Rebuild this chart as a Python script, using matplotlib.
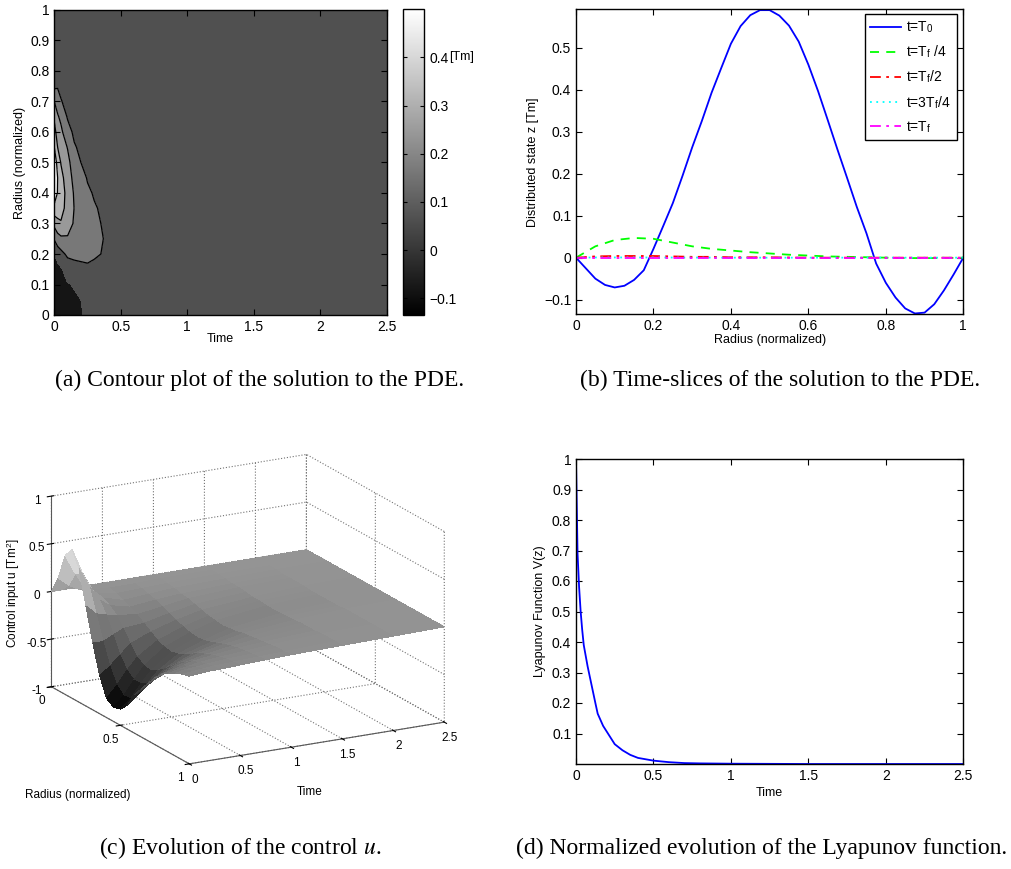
import numpy as np
import matplotlib
matplotlib.use('Agg')
import matplotlib.pyplot as plt
from matplotlib import cm, colors
from matplotlib.ticker import FuncFormatter

plt.rcParams['font.family'] = ['Liberation Sans', 'DejaVu Sans']
plt.rcParams['mathtext.fontset'] = 'stix'
plt.rcParams['xtick.direction'] = 'in'
plt.rcParams['ytick.direction'] = 'in'

# ---- (a) contour data: z(t, r), rows = time, columns = radius
t_a = [0, 0.025, 0.05, 0.1, 0.15, 0.2, 0.25, 0.3, 0.35, 0.4, 0.5, 2.5]
r_a = [0, 0.05, 0.1, 0.15, 0.2, 0.25, 0.3, 0.35, 0.4, 0.45, 0.5,
       0.55, 0.6, 0.65, 0.7, 0.75, 0.8, 0.85, 0.9, 0.95, 1.0]
z_a = [
    [-0.10, -0.12, -0.13, -0.11, -0.052, 0.06, 0.18, 0.32, 0.42, 0.47, 0.43, 0.35, 0.29, 0.23, 0.15, 0.03, 0.01, 0.0, 0.0, 0.0, 0.0],
    [-0.09, -0.11, -0.11, -0.08, -0.01, 0.11, 0.22, 0.31, 0.345, 0.35, 0.31, 0.25, 0.20, 0.16, 0.11, 0.04, 0.015, 0.005, 0.0, 0.0, 0.0],
    [-0.08, -0.09, -0.09, -0.06, 0.02, 0.13, 0.24, 0.29, 0.30, 0.28, 0.245, 0.21, 0.17, 0.13, 0.055, 0.03, 0.01, 0.0, 0.0, 0.0, 0.0],
    [-0.07, -0.075, -0.055, -0.01, 0.07, 0.14, 0.19, 0.21, 0.215, 0.20, 0.18, 0.145, 0.09, 0.04, 0.025, 0.015, 0.01, 0.0, 0.0, 0.0, 0.0],
    [-0.06, -0.06, -0.045, 0.02, 0.07, 0.11, 0.14, 0.148, 0.14, 0.12, 0.095, 0.06, 0.03, 0.02, 0.015, 0.01, 0.0, 0.0, 0.0, 0.0, 0.0],
    [-0.055, -0.05, -0.02, 0.03, 0.07, 0.09, 0.10, 0.10, 0.09, 0.075, 0.05, 0.03, 0.02, 0.01, 0.01, 0.0, 0.0, 0.0, 0.0, 0.0, 0.0],
    [-0.04, -0.03, -0.005, 0.04, 0.065, 0.075, 0.075, 0.07, 0.06, 0.045, 0.03, 0.02, 0.01, 0.01, 0.0, 0.0, 0.0, 0.0, 0.0, 0.0, 0.0],
    [-0.03, -0.02, 0.0, 0.035, 0.058, 0.065, 0.063, 0.055, 0.045, 0.035, 0.025, 0.015, 0.01, 0.0, 0.0, 0.0, 0.0, 0.0, 0.0, 0.0, 0.0],
    [-0.02, -0.015, 0.0, 0.03, 0.05, 0.056, 0.05, 0.045, 0.035, 0.03, 0.02, 0.01, 0.005, 0.0, 0.0, 0.0, 0.0, 0.0, 0.0, 0.0, 0.0],
    [-0.015, -0.01, 0.0, 0.02, 0.035, 0.04, 0.038, 0.033, 0.028, 0.02, 0.015, 0.01, 0.0, 0.0, 0.0, 0.0, 0.0, 0.0, 0.0, 0.0, 0.0],
    [-0.01, -0.005, 0.0, 0.01, 0.02, 0.025, 0.02, 0.015, 0.01, 0.005, 0.0, 0.0, 0.0, 0.0, 0.0, 0.0, 0.0, 0.0, 0.0, 0.0, 0.0],
    [0.0, 0.0, 0.0, 0.0, 0.0, 0.0, 0.0, 0.0, 0.0, 0.0, 0.0, 0.0, 0.0, 0.0, 0.0, 0.0, 0.0, 0.0, 0.0, 0.0, 0.0],
]
levels_a = [-1.0, -0.05, 0.05, 0.15, 0.25, 0.35, 1.0]
fills_a = ['#151515', '#505050', '#787878', '#999999', '#b4b4b4', '#efefef']

# ---- (b) time slices z(r)
r_b0 = np.linspace(0, 1, 41)
z_T0 = [0, -0.025, -0.05, -0.065, -0.071, -0.067, -0.053, -0.03, 0.021, 0.075,
        0.13, 0.195, 0.263, 0.326, 0.393, 0.452, 0.51, 0.552, 0.578, 0.59,
        0.59, 0.577, 0.553, 0.515, 0.46, 0.397, 0.328, 0.258, 0.19, 0.121,
        0.058, -0.014, -0.06, -0.095, -0.121, -0.133, -0.131, -0.111, -0.078, -0.04, 0]
r_b = np.linspace(0, 1, 21)
z_T1 = [0, 0.027, 0.042, 0.047, 0.045, 0.036, 0.027, 0.021, 0.017, 0.013, 0.01,
        0.007, 0.005, 0.003, 0.002, 0.001, 0.0, -0.001, -0.001, -0.001, 0]
z_T2 = [0, 0.003, 0.004, 0.004, 0.004, 0.003, 0.002, 0.002, 0.001, 0.001, 0.001,
        0.0005, 0.0, 0.0, 0.0, 0.0, 0.0, 0.0, 0.0, 0.0, 0]
z_T3 = [0, 0.0005, 0.0005, 0.0005, 0.0004, 0.0003, 0.0002, 0.0001, 0.0, 0.0, 0.0,
        0.0, 0.0, 0.0, 0.0, 0.0, 0.0, 0.0, 0.0, 0.0, 0]
z_T4 = [0, 0.0, 0.0, 0.0, 0.0, 0.0, 0.0, 0.0, 0.0, 0.0, 0.0,
        0.0, 0.0, 0.0, 0.0, 0.0, 0.0, 0.0, 0.0, 0.0, 0]
labels_b = ['t=T$_\\mathregular{0}$', 't=T$_\\mathregular{f}$ /4', 't=T$_\\mathregular{f}$/2',
            't=3T$_\\mathregular{f}$/4', 't=T$_\\mathregular{f}$']

# ---- (c) control input u(r, t), rows = time
r_c = np.linspace(0, 1, 21)
t_c = [0, 0.1, 0.2, 0.3, 0.5, 0.75, 1.0, 1.5, 2.0, 2.5]
u_c = [
    [0, 0.18, 0.46, 0.56, 0.40, 0.05, -0.30, -0.60, -0.80, -0.85, -0.83, -0.75, -0.60, -0.50, -0.40, -0.30, -0.22, -0.17, -0.13, -0.10, -0.08],
    [0, 0.09, 0.25, 0.30, 0.20, -0.05, -0.30, -0.52, -0.68, -0.75, -0.74, -0.66, -0.55, -0.44, -0.35, -0.27, -0.20, -0.15, -0.11, -0.09, -0.07],
    [0, 0.03, 0.08, 0.10, 0.04, -0.08, -0.25, -0.42, -0.54, -0.60, -0.60, -0.55, -0.46, -0.37, -0.29, -0.22, -0.17, -0.13, -0.10, -0.08, -0.06],
    [0, 0.0, 0.01, 0.0, -0.04, -0.10, -0.20, -0.32, -0.42, -0.47, -0.48, -0.44, -0.38, -0.31, -0.24, -0.19, -0.14, -0.11, -0.09, -0.07, -0.06],
    [0, -0.01, -0.03, -0.06, -0.09, -0.13, -0.18, -0.23, -0.28, -0.31, -0.32, -0.30, -0.26, -0.22, -0.17, -0.14, -0.11, -0.09, -0.07, -0.06, -0.05],
    [0, -0.01, -0.02, -0.04, -0.06, -0.09, -0.12, -0.15, -0.18, -0.20, -0.21, -0.20, -0.18, -0.15, -0.12, -0.10, -0.08, -0.07, -0.06, -0.05, -0.04],
    [0, 0.0, -0.01, -0.02, -0.04, -0.05, -0.07, -0.09, -0.11, -0.12, -0.13, -0.12, -0.11, -0.09, -0.08, -0.07, -0.06, -0.05, -0.04, -0.04, -0.03],
    [0, 0.0, 0.0, -0.01, -0.02, -0.02, -0.03, -0.04, -0.04, -0.05, -0.05, -0.05, -0.04, -0.04, -0.03, -0.03, -0.03, -0.02, -0.02, -0.02, -0.02],
    [0, 0.0, 0.0, 0.0, -0.01, -0.01, -0.01, -0.01, -0.02, -0.02, -0.02, -0.02, -0.02, -0.01, -0.01, -0.01, -0.01, -0.01, -0.01, -0.01, -0.01],
    [0, 0.0, 0.0, 0.0, 0.0, 0.0, 0.0, 0.0, 0.0, 0.0, 0.0, 0.0, 0.0, 0.0, 0.0, 0.0, 0.0, 0.0, 0.0, 0.0, 0.0],
]

# ---- (d) normalized Lyapunov function
t_d = [0, 0.01, 0.02, 0.03, 0.04, 0.05, 0.075, 0.1, 0.125, 0.14, 0.175, 0.2, 0.25,
       0.3, 0.35, 0.4, 0.5, 0.6, 0.7, 0.8, 1.0, 1.5, 2.0, 2.5]
V_d = [1.0, 0.69, 0.58, 0.50, 0.44, 0.39, 0.32, 0.26, 0.20, 0.165, 0.125, 0.105, 0.065,
       0.045, 0.03, 0.02, 0.011, 0.006, 0.003, 0.002, 0.001, 0.0, 0.0, 0.0]

captions = ['(a) Contour plot of the solution to the PDE.',
            '(b) Time-slices of the solution to the PDE.',
            '(c) Evolution of the control $u$.',
            '(d) Normalized evolution of the Lyapunov function.']

W, H = 1011, 869
fig = plt.figure(figsize=(W / 100, H / 100), dpi=100)


def rect(x0, y0, x1, y1):
    # pixel box -> figure fraction
    return [x0 / W, 1 - y1 / H, (x1 - x0) / W, (y1 - y0) / H]


fmt = FuncFormatter(lambda v, p: ('%g' % round(v, 6)).replace('-', '\u2212'))


def matlab_axes(ax):
    ax.tick_params(labelsize=10, top=True, right=True, length=4, width=0.8)
    for s in ax.spines.values():
        s.set_linewidth(1.0)
    ax.xaxis.set_major_formatter(fmt)
    ax.yaxis.set_major_formatter(fmt)


# (a)
ax_a = fig.add_axes(rect(54.3, 10, 386.7, 315))
Za = np.array(z_a).T
ax_a.contourf(t_a, r_a, Za, levels=levels_a, colors=fills_a)
ax_a.contour(t_a, r_a, Za, levels=levels_a[2:-1], colors='k', linewidths=0.9)
ax_a.set_xlim(0, 2.5)
ax_a.set_ylim(0, 1)
ax_a.set_xticks(np.arange(0, 2.51, 0.5))
ax_a.set_yticks(np.arange(0, 1.01, 0.1))
matlab_axes(ax_a)
ax_a.set_xlabel('Time', fontsize=9)
ax_a.set_ylabel('Radius (normalized)', fontsize=9)
ax_a.yaxis.set_label_coords(-0.085, 0.5)
ax_a.xaxis.set_label_coords(0.5, -0.06)

cax = fig.add_axes(rect(402.7, 9.3, 424.3, 315))
sm = cm.ScalarMappable(norm=colors.Normalize(-0.135, 0.5), cmap='gray')
cb = fig.colorbar(sm, cax=cax, ticks=[-0.1, 0, 0.1, 0.2, 0.3, 0.4])
cb.ax.yaxis.set_major_formatter(fmt)
cb.ax.tick_params(labelsize=10, direction='in', left=True, right=True, length=3)
cb.outline.set_linewidth(1.0)
fig.text(449 / W, 1 - 57 / H, '[Tm]', fontsize=9, va='center', ha='left')

# (b)
ax_b = fig.add_axes(rect(576, 9.3, 963.3, 314.3))
ax_b.plot(r_b0, z_T0, color='#0000ff', lw=1.3, label=labels_b[0])
ax_b.plot(r_b, z_T1, color='#00ff00', lw=1.3, ls=(0, (5, 4)), label=labels_b[1])
ax_b.plot(r_b, z_T2, color='#ff0000', lw=1.3, ls=(0, (6, 3, 1.5, 3)), label=labels_b[2])
ax_b.plot(r_b, z_T3, color='#00ffff', lw=1.3, ls=(0, (1, 2.5)), label=labels_b[3])
ax_b.plot(r_b, z_T4, color='#ff00ff', lw=1.3, ls=(0, (6, 3, 1.5, 3)), label=labels_b[4])
ax_b.set_xlim(0, 1)
ax_b.set_ylim(-0.135, 0.592)
ax_b.set_xticks(np.arange(0, 1.01, 0.2))
ax_b.set_yticks(np.arange(-0.1, 0.51, 0.1))
matlab_axes(ax_b)
ax_b.set_xlabel('Radius (normalized)', fontsize=9)
ax_b.set_ylabel('Distributed state z [Tm]', fontsize=9)
ax_b.yaxis.set_label_coords(-0.095, 0.5)
ax_b.xaxis.set_label_coords(0.5, -0.065)
leg = ax_b.legend(loc='upper right', fontsize=10, handlelength=2.2, labelspacing=0.6,
                  handletextpad=0.4, fancybox=False, edgecolor='k', framealpha=1,
                  borderaxespad=0.0, bbox_to_anchor=(0.983, 0.985))
leg.get_frame().set_linewidth(1.0)

# (c)
ax_c = fig.add_axes(rect(3, 434, 483, 794), projection='3d', proj_type='ortho')
ax_c.set_facecolor((1, 1, 1, 0))
ax_c.view_init(elev=17.6, azim=-28.4)
ax_c.set_box_aspect((1, 1, 0.69), zoom=1.23)
Rc, Tc = np.meshgrid(r_c, t_c)
surf = ax_c.plot_surface(Rc, Tc, np.array(u_c), cmap='gray', norm=colors.Normalize(-0.85, 0.62),
                         linewidth=0, antialiased=False, rstride=1, cstride=1)
surf.set_clip_on(False)
ax_c.set_xlim(0, 1)
ax_c.set_ylim(0, 2.5)
ax_c.set_zlim(-1, 1)
ax_c.set_xticks([0, 0.5, 1])
ax_c.set_yticks([0, 0.5, 1, 1.5, 2, 2.5])
ax_c.set_zticks([-1, -0.5, 0, 0.5, 1])
ax_c.set_xticklabels(['0', '0.5', '1'])
ax_c.set_yticklabels(['0', '0.5', '1', '1.5', '2', '2.5'])
ax_c.set_zticklabels(['-1', '-0.5', '0', '0.5', '1'])
ax_c.tick_params(labelsize=8.5, pad=-3)
ax_c.zaxis.set_ticks_position('lower')
for axis in (ax_c.xaxis, ax_c.yaxis, ax_c.zaxis):
    axis.set_pane_color((1, 1, 1, 0))
    axis.pane.set_edgecolor((1, 1, 1, 0))
    axis._axinfo['grid'].update(color='0.45', linestyle=':', linewidth=0.8)
    axis.line.set_color('0.35')
    axis.line.set_linewidth(0.8)
fig.text(78 / W, 1 - 795 / H, 'Radius (normalized)', fontsize=8.5, ha='center', va='center')
fig.text(310 / W, 1 - 792 / H, 'Time', fontsize=8.5, ha='center', va='center')
fig.text(13 / W, 1 - 593 / H, 'Control input u [Tm$^\\mathregular{2}$]', fontsize=8.5,
         ha='center', va='center', rotation=90)

# (d)
ax_d = fig.add_axes(rect(576, 459, 963.3, 764))
ax_d.plot(t_d, V_d, color='#0000ff', lw=1.3)
ax_d.set_xlim(0, 2.5)
ax_d.set_ylim(0.0, 1)
ax_d.set_xticks(np.arange(0, 2.51, 0.5))
ax_d.set_yticks(np.arange(0.1, 1.01, 0.1))
matlab_axes(ax_d)
ax_d.set_xlabel('Time', fontsize=9)
ax_d.set_ylabel('Lyapunov Function V(z)', fontsize=9)
ax_d.yaxis.set_label_coords(-0.078, 0.5)
ax_d.xaxis.set_label_coords(0.5, -0.075)

# captions
cap_kw = dict(fontsize=17, family=['Liberation Serif', 'DejaVu Serif'], ha='center', va='center')
fig.text(260 / W, 1 - 380 / H, captions[0], **cap_kw)
fig.text(780 / W, 1 - 380 / H, captions[1], **cap_kw)
fig.text(240 / W, 1 - 848 / H, captions[2], **cap_kw)
fig.text(762 / W, 1 - 848 / H, captions[3], **cap_kw)

fig.savefig('out.png', dpi=100)
